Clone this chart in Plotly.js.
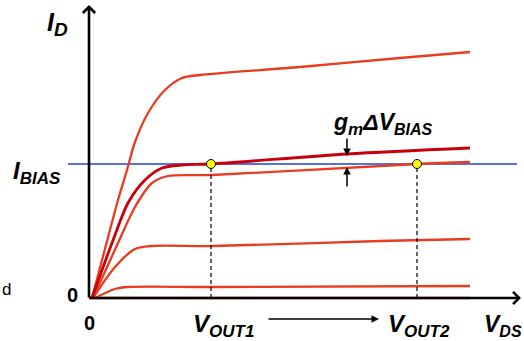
<!DOCTYPE html>
<html><head><meta charset="utf-8">
<script src="https://cdn.plot.ly/plotly-3.0.1.min.js"></script>
<style>html,body{margin:0;padding:0;background:#fff;overflow:hidden}#chart{width:524px;height:341px}</style>
</head><body><div id="chart"></div>
<script>
// Drain current curves: VDS (arbitrary units) vs ID (arbitrary units)
const vds1 = [0.03, 0.17, 0.29, 0.38, 0.46, 0.59, 0.76, 0.93, 1.11, 2.11, 3.11, 3.81];
const id1  = [0.00, 2.12, 3.92, 5.12, 6.24, 7.40, 8.32, 8.80, 8.92, 9.24, 9.60, 9.84];

const vdsHi = [0.03, 0.23, 0.39, 0.56, 0.73, 0.93, 1.22, 2.58, 3.81];
const idHi  = [0.00, 2.20, 3.80, 4.72, 5.20, 5.32, 5.36, 5.76, 6.00];

const vds3 = [0.04, 0.29, 0.46, 0.63, 0.79, 1.23, 3.28, 3.81];
const id3  = [0.00, 2.20, 3.64, 4.60, 4.88, 4.92, 5.36, 5.44];

const vds4 = [0.04, 0.26, 0.46, 0.63, 1.24, 2.91, 3.81];
const id4  = [0.00, 1.24, 1.96, 2.08, 2.08, 2.28, 2.36];

const vds5 = [0.06, 0.26, 0.39, 1.24, 3.81];
const id5  = [0.00, 0.36, 0.44, 0.44, 0.48];

const vds6 = [0.00, 3.81];
const id6  = [0.00, 0.00];

const vOut = [1.22, 3.28];
const iBias = 5.36;
const biasSpan = [-0.21, 4.28];

// pixel helpers for layout placement
const PX = p => (p - 89) / 100;
const PY = p => (298 - p) / 25;

const RED = '#E83C1C', DARK = '#C8000A', BLUE = '#2040D8';
const FONT = 'Liberation Sans, Arial, sans-serif';

const redLine = (x, y) => ({x, y, mode: 'lines', type: 'scatter', hoverinfo: 'skip',
  line: {color: RED, width: 2.3, shape: 'spline', smoothing: 0.8}, cliponaxis: false});

const traces = [
  {x: biasSpan, y: [iBias, iBias], mode: 'lines', line: {color: BLUE, width: 1.6}, cliponaxis: false},
  redLine(vds6, id6),
  redLine(vds5, id5),
  redLine(vds4, id4),
  redLine(vds3, id3),
  redLine(vds1, id1),
  {x: vdsHi, y: idHi, mode: 'lines', line: {color: DARK, width: 2.8, shape: 'spline', smoothing: 0.8}, cliponaxis: false},
  {x: [vOut[0], vOut[0]], y: [0, iBias], mode: 'lines', line: {color: '#000', width: 1.2, dash: '4px,3px'}},
  {x: [vOut[1], vOut[1]], y: [0, iBias], mode: 'lines', line: {color: '#000', width: 1.2, dash: '4px,3px'}},
  {x: vOut, y: [iBias, iBias], mode: 'markers', cliponaxis: false,
   marker: {color: '#FFFF00', size: 9, line: {color: '#000', width: 1}}}
];

const arrow = (tx, ty, sx, sy, w, head, size) => ({
  x: PX(tx), y: PY(ty), ax: PX(sx), ay: PY(sy), axref: 'x', ayref: 'y', xref: 'x', yref: 'y',
  text: '', showarrow: true, arrowhead: head, arrowwidth: w, arrowsize: size, arrowcolor: '#000',
  standoff: 0, startstandoff: 0
});
const label = (html, px, py, xa, ya, size) => ({
  x: PX(px), y: PY(py), xref: 'x', yref: 'y', text: html, showarrow: false,
  xanchor: xa, yanchor: ya, font: {family: FONT, size: size, color: '#000'}
});
const sub = (t, s) => '<sub><span style="font-size:' + s + 'px">' + t + '</span></sub>';

const annotations = [
  arrow(89, 5, 89, 299, 2.6, 4, 0.9),
  arrow(521, 298, 88, 298, 2.6, 4, 0.9),
  arrow(347, 156, 347, 137, 1.5, 2, 1),
  arrow(347, 167, 347, 188, 1.5, 2, 1),
  arrow(379, 319, 267, 319, 1.5, 2, 1),
  label('<b><i>I' + sub('D', 19) + '</i></b>', 45, 24, 'left', 'middle', 25),
  label('<b><i>I' + sub('BIAS', 17) + '</i></b>', 11, 172, 'left', 'middle', 24),
  label('<b>0</b>', 72, 295, 'center', 'middle', 20),
  label('<b>0</b>', 89, 323, 'center', 'middle', 20),
  label('d', 0, 289, 'left', 'middle', 17),
  label('<b><i>V' + sub('OUT1', 17) + '</i></b>', 191, 325, 'left', 'middle', 24),
  label('<b><i>V' + sub('OUT2', 17) + '</i></b>', 386, 325, 'left', 'middle', 24),
  label('<b><i>V' + sub('DS', 16) + '</i></b>', 482, 325, 'left', 'middle', 23),
  label('<b><i>g' + sub('m', 17) + 'ΔV' + sub('BIAS', 16) + '</i></b>', 331, 124, 'left', 'middle', 23)
];

const layout = {
  width: 524, height: 341, margin: {l: 0, r: 0, t: 0, b: 0},
  paper_bgcolor: '#fff', plot_bgcolor: '#fff', showlegend: false,
  xaxis: {range: [PX(0), PX(524)], visible: false, fixedrange: true},
  yaxis: {range: [PY(341), PY(0)], visible: false, fixedrange: true},
  annotations
};

Plotly.newPlot('chart', traces, layout, {displayModeBar: false, staticPlot: true});
</script></body></html>
